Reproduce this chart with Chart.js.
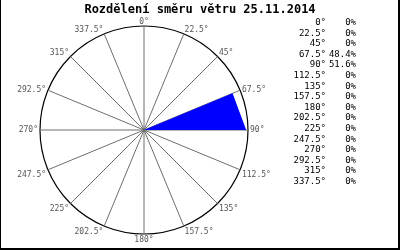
<!DOCTYPE html>
<html>
<head>
<meta charset="utf-8">
<script src="https://cdn.jsdelivr.net/npm/chart.js@4.4.1/dist/chart.umd.min.js"></script>
<style>
  html, body { margin: 0; padding: 0; background: #fff; }
  #wrap { position: relative; width: 400px; height: 250px; }
  #frame {
    position: absolute; left: 0; top: 0; width: 400px; height: 250px;
    box-sizing: border-box; pointer-events: none;
    border-left: 1px solid #000; border-right: 2px solid #000; border-bottom: 2px solid #000;
  }
</style>
</head>
<body>
<div id="wrap">
  <canvas id="rose" width="400" height="250"></canvas>
  <div id="frame"></div>
</div>
<script>
// --- data ---
const titleText = "Rozdělení směru větru 25.11.2014";
const directions = ["0°", "22.5°", "45°", "67.5°", "90°", "112.5°", "135°", "157.5°",
  "180°", "202.5°", "225°", "247.5°", "270°", "292.5°", "315°", "337.5°"];
const shares = [0, 0, 0, 48.4, 51.6, 0, 0, 0, 0, 0, 0, 0, 0, 0, 0, 0];
const scaleMax = 52.5;

// labels round the circle, title and the table on the right
const roseText = {
  id: "roseText",
  afterDraw(chart) {
    const ctx = chart.ctx;
    const r = chart.scales.r;
    ctx.save();

    ctx.font = "bold 12px 'DejaVu Sans Mono'";
    ctx.fillStyle = "#000";
    ctx.textAlign = "center";
    ctx.textBaseline = "alphabetic";
    ctx.fillText(titleText, 200, 13);

    ctx.font = "8px 'DejaVu Sans Mono'";
    ctx.fillStyle = "#555";
    directions.forEach((lab, i) => {
      const p = r.getPointPosition(i, r.drawingArea + 2);
      const deg = Math.round(r.getIndexAngle(i) * 180 / Math.PI) % 360;
      ctx.textAlign = (deg === 0 || deg === 180) ? "center" : (deg < 180 ? "left" : "right");
      // near-horizontal upper labels sit centred on their spoke
      if ((deg > 45 && deg <= 90) || (deg >= 270 && deg < 315)) ctx.textBaseline = "middle";
      else if (deg < 90 || deg > 270) ctx.textBaseline = "alphabetic";
      else ctx.textBaseline = "top";
      ctx.fillText(lab, p.x, p.y);
    });

    ctx.font = "9px 'DejaVu Sans Mono'";
    ctx.fillStyle = "#000";
    ctx.textAlign = "right";
    ctx.textBaseline = "alphabetic";
    directions.forEach((lab, i) => {
      const y = 25 + i * 10.6;
      ctx.fillText(lab, 326, y);
      ctx.fillText(shares[i] + "%", 356, y);
    });
    ctx.restore();
  }
};

new Chart(document.getElementById("rose"), {
  type: "radar",
  data: {
    labels: directions,
    datasets: [{
      data: shares,
      backgroundColor: "#0000ff",
      borderWidth: 0,
      pointRadius: 0,
      fill: true
    }]
  },
  options: {
    responsive: false,
    animation: false,
    devicePixelRatio: 1,
    layout: { padding: { left: 40, right: 152, top: 26, bottom: 16 } },
    plugins: { legend: { display: false }, tooltip: { enabled: false } },
    elements: { line: { tension: 0 } },
    scales: {
      r: {
        min: 0,
        max: scaleMax,
        ticks: { display: false, stepSize: scaleMax },
        grid: { circular: true, color: "#000", lineWidth: 1.2 },
        angleLines: { display: true, color: "#6e6e6e", lineWidth: 1 },
        pointLabels: { display: false }
      }
    }
  },
  plugins: [roseText]
});
</script>
</body>
</html>
